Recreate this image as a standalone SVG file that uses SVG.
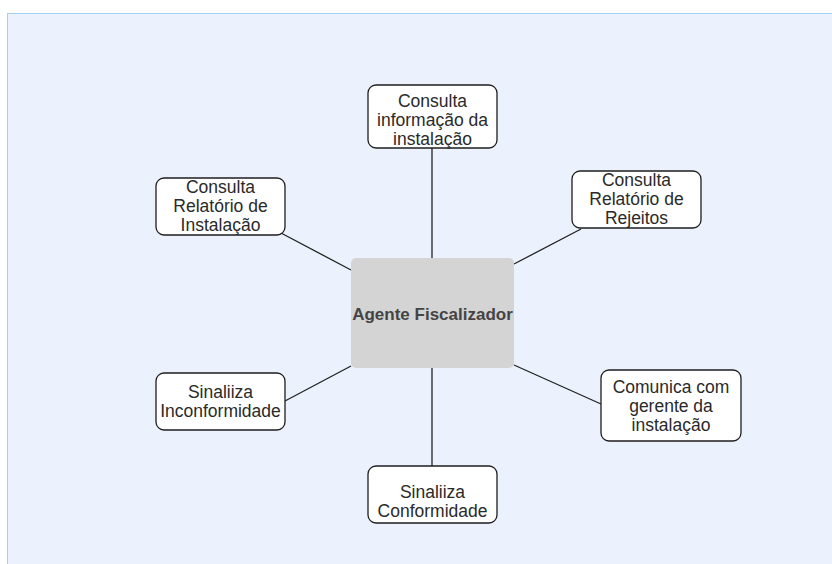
<svg xmlns="http://www.w3.org/2000/svg" width="832" height="564" viewBox="0 0 832 564">
  <style>
    .box { fill: #ffffff; stroke: #1e1e1e; stroke-width: 1.3; }
    .hub { fill: #d4d4d4; stroke: none; }
    .lbl { font-family: "Liberation Sans", Arial, sans-serif; font-size: 17.5px; fill: #2a2a2a; text-anchor: middle; }
    .hubl { font-family: "Liberation Sans", Arial, sans-serif; font-size: 17px; font-weight: bold; fill: #444444; text-anchor: middle; }
    .edge { stroke: #222222; stroke-width: 1.3; fill: none; }
  </style>
  <!-- canvas -->
  <rect x="0" y="0" width="832" height="564" fill="#ffffff"/>
  <rect x="7.5" y="13.5" width="830" height="560" fill="#ebf1fd" stroke="#a6cdf2" stroke-width="1"/>

  <g id="connectors">
    <line class="edge" x1="432" y1="148" x2="432" y2="258"/>
    <line class="edge" x1="281" y1="233" x2="351" y2="270"/>
    <line class="edge" x1="514" y1="264" x2="581" y2="229"/>
    <line class="edge" x1="514" y1="365" x2="601" y2="404"/>
    <line class="edge" x1="285" y1="401" x2="351" y2="366"/>
    <line class="edge" x1="432" y1="368" x2="432" y2="466"/>
  </g>

  <g id="agente">
    <rect class="hub" x="351" y="258" width="163" height="110" rx="5"/>
    <text class="hubl" x="432.5" y="320">Agente Fiscalizador</text>
  </g>

  <g id="info-instalacao">
    <rect class="box" x="368" y="85" width="129" height="63" rx="8"/>
    <text class="lbl" x="432.5" y="107">Consulta</text>
    <text class="lbl" x="432.5" y="126">informação da</text>
    <text class="lbl" x="432.5" y="145">instalação</text>
  </g>

  <g id="relatorio-instalacao">
    <rect class="box" x="156" y="178" width="129" height="57" rx="8"/>
    <text class="lbl" x="220.5" y="193">Consulta</text>
    <text class="lbl" x="220.5" y="212">Relatório de</text>
    <text class="lbl" x="220.5" y="231">Instalação</text>
  </g>

  <g id="relatorio-rejeitos">
    <rect class="box" x="572" y="171" width="129" height="57" rx="8"/>
    <text class="lbl" x="636.5" y="186">Consulta</text>
    <text class="lbl" x="636.5" y="205">Relatório de</text>
    <text class="lbl" x="636.5" y="224">Rejeitos</text>
  </g>

  <g id="comunica-gerente">
    <rect class="box" x="601" y="370" width="140" height="71" rx="8"/>
    <text class="lbl" x="671" y="393">Comunica com</text>
    <text class="lbl" x="671" y="412">gerente da</text>
    <text class="lbl" x="671" y="431">instalação</text>
  </g>

  <g id="inconformidade">
    <rect class="box" x="156" y="373" width="129" height="57" rx="8"/>
    <text class="lbl" x="220.5" y="398">Sinaliiza</text>
    <text class="lbl" x="220.5" y="417">Inconformidade</text>
  </g>

  <g id="conformidade">
    <rect class="box" x="368" y="466" width="129" height="57" rx="8"/>
    <text class="lbl" x="432.5" y="498">Sinaliiza</text>
    <text class="lbl" x="432.5" y="517">Conformidade</text>
  </g>
</svg>
